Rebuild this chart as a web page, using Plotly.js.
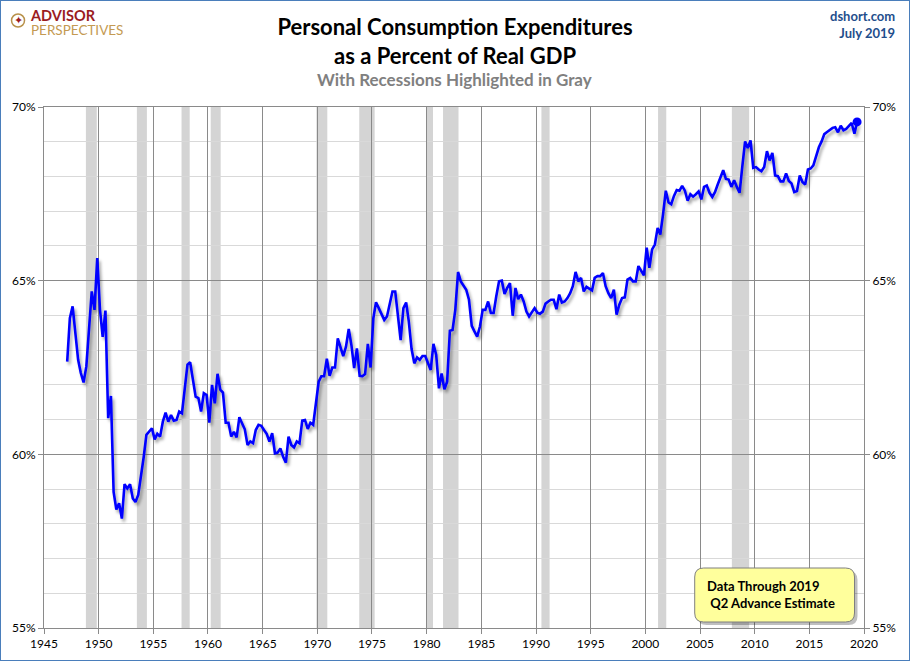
<!DOCTYPE html>
<html>
<head>
<meta charset="utf-8">
<script src="https://cdn.plot.ly/plotly-3.0.1.min.js"></script>
<style>
  html, body { margin:0; padding:0; background:#fff; }
  #wrap { position:relative; width:910px; height:661px; }
  #chart { width:910px; height:661px; }
  #frame { position:absolute; left:0; top:0; width:908px; height:659px; border:1px solid #4a7ebb; pointer-events:none; }
</style>
</head>
<body>
<svg width="0" height="0" style="position:absolute">
  <defs>
    <filter id="lineShadow" x="-5%" y="-5%" width="110%" height="120%">
      <feDropShadow dx="2" dy="3" stdDeviation="1.4" flood-color="#000" flood-opacity="0.35"/>
    </filter>
  </defs>
</svg>
<div id="wrap"><div id="chart"></div><div id="frame"></div></div>
<script>
// Quarterly PCE as % of real GDP, first quarter = 1947 Q1
const startYear = 1947;
const pce1947to1959 = [
  62.67, 63.92, 64.26, 63.49,
  62.72, 62.34, 62.07, 62.53,
  63.59, 64.69, 64.16, 65.65,
  64.16, 63.38, 64.14, 61.04,
  61.68, 58.92, 58.41, 58.59,
  58.15, 59.14, 59.02, 59.14,
  58.73, 58.63, 58.83, 59.36,
  59.93, 60.56, 60.67, 60.75,
  60.43, 60.59, 60.51, 60.94,
  61.20, 60.94, 61.13, 60.97,
  60.99, 61.23, 61.18, 61.81,
  62.58, 62.65, 62.19, 61.66,
  61.62, 61.23, 61.76, 61.71
];
const pce1960s = [
  60.91, 62.00, 61.47, 62.32,
  61.86, 61.78, 60.91, 60.91,
  60.51, 60.65, 60.49, 61.07,
  60.89, 60.72, 60.27, 60.37,
  60.32, 60.70, 60.85, 60.82,
  60.70, 60.59, 60.37, 60.61,
  60.03, 60.05, 60.17, 59.93,
  59.76, 60.51, 60.27, 60.20,
  60.37, 60.32, 60.97, 60.99,
  60.73, 60.91, 60.85, 61.47
];
const pce1970s = [
  62.09, 62.25, 62.25, 62.75,
  62.26, 62.50, 62.50, 63.34,
  63.08, 62.83, 63.10, 63.61,
  63.13, 62.48, 63.05, 62.26,
  62.25, 62.31, 63.18, 62.50,
  63.92, 64.38, 64.21, 64.02,
  63.87, 63.97, 64.35, 64.69,
  64.69, 63.92, 63.29, 64.21,
  64.37, 63.82, 63.03, 62.62,
  62.79, 62.72, 62.83, 62.83
];
const pce1980s = [
  62.62, 62.43, 63.18, 62.86,
  61.90, 62.33, 61.87, 62.09,
  63.56, 63.58, 64.16, 65.25,
  64.98, 64.86, 64.74, 64.45,
  63.70, 63.54, 63.39, 63.68,
  64.16, 64.16, 64.40, 64.07,
  64.07, 64.55, 64.98, 65.00,
  64.62, 64.79, 64.93, 63.99,
  64.79, 64.47, 64.60, 64.40,
  64.11, 63.97, 64.11, 64.21
];
const pce1990s = [
  64.08, 64.05, 64.11, 64.34,
  64.40, 64.45, 64.45, 64.18,
  64.60, 64.37, 64.40, 64.50,
  64.64, 64.84, 65.25, 64.98,
  65.08, 64.69, 64.82, 64.76,
  64.72, 65.08, 65.13, 65.13,
  65.22, 64.84, 64.64, 64.50,
  64.74, 64.02, 64.31, 64.50,
  64.52, 65.03, 65.08, 64.98,
  64.98, 65.42, 65.29, 65.15
];
const pce2000s = [
  65.95, 65.37, 65.90, 66.04,
  66.52, 66.33, 66.91, 67.59,
  67.25, 67.20, 67.44, 67.61,
  67.59, 67.73, 67.59, 67.30,
  67.49, 67.42, 67.49, 67.57,
  67.34, 67.70, 67.74, 67.53,
  67.41, 67.55, 67.77, 67.96,
  68.18, 67.93, 67.91, 67.70,
  67.89, 67.70, 67.53, 68.30,
  69.01, 68.82, 69.04, 68.25
];
const pce2010s = [
  68.27, 68.20, 68.15, 68.27,
  68.73, 68.46, 68.68, 68.03,
  68.01, 67.86, 67.86, 68.09,
  67.87, 67.80, 67.55, 67.58,
  68.03, 67.84, 67.77, 68.20,
  68.23, 68.32, 68.58, 68.84,
  69.01, 69.22, 69.28, 69.35,
  69.40, 69.42, 69.27, 69.46,
  69.33, 69.37, 69.46, 69.54,
  69.23, 69.57
];
// NBER recessions (start, end)
const recessionStart = ['1948-11-01','1953-07-01','1957-08-01','1960-04-01','1969-12-01','1973-11-01','1980-01-01','1981-07-01','1990-07-01','2001-03-01','2007-12-01'];
const recessionEnd   = ['1949-10-31','1954-05-31','1958-04-30','1961-02-28','1970-11-30','1975-03-31','1980-07-31','1982-11-30','1991-03-31','2001-11-30','2009-06-30'];
const yTickVals = [55, 60, 65, 70];
const quarterMonths = ['02','05','08','11'];

const values = [].concat(pce1947to1959, pce1960s, pce1970s, pce1980s, pce1990s, pce2000s, pce2010s);
const dates = values.map((v, i) => (startYear + Math.floor(i / 4)) + '-' + quarterMonths[i % 4] + '-15');

// pixel helpers for decorations outside plot area
const L = 43.5, R = 864.5, T = 107, B = 628;
const px = p => (p - L) / (R - L);
const py = p => (B - p) / (B - T);

const font = 'Lato, "Open Sans", sans-serif';
const blue = '#0000ff';

const shapes = recessionStart.map((s, i) => ({
  type: 'rect', xref: 'x', yref: 'paper', x0: s, x1: recessionEnd[i], y0: 0, y1: 1,
  fillcolor: '#d4d4d4', line: { width: 0 }, layer: 'below'
}));

// rounded box with shadow
function roundRect(x0, y0, x1, y1, r) {
  const a = px(x0), b = px(x1), top = py(y0), bot = py(y1);
  const rx = r / (R - L), ry = r / (B - T);
  return `M ${a + rx},${top} L ${b - rx},${top} Q ${b},${top} ${b},${top - ry} L ${b},${bot + ry} Q ${b},${bot} ${b - rx},${bot} L ${a + rx},${bot} Q ${a},${bot} ${a},${bot + ry} L ${a},${top - ry} Q ${a},${top} ${a + rx},${top} Z`;
}
shapes.push({ type: 'path', xref: 'paper', yref: 'paper', path: roundRect(698, 571, 858, 625, 9), fillcolor: 'rgba(0,0,0,0.25)', line: { width: 0 }, layer: 'above' });
shapes.push({ type: 'path', xref: 'paper', yref: 'paper', path: roundRect(695, 568, 855, 622, 9), fillcolor: '#ffff9c', line: { color: '#7f7f7f', width: 1 }, layer: 'above' });
// logo compass circle
shapes.push({ type: 'circle', xref: 'paper', yref: 'paper', x0: px(11), x1: px(24), y0: py(27), y1: py(14), line: { color: '#b8914a', width: 1.5 }, fillcolor: 'rgba(0,0,0,0)' });

function note(text, xp, yp, size, color, anchor) {
  return { text: text, x: px(xp), y: py(yp), xanchor: anchor || 'center', yanchor: 'middle', xref: 'paper', yref: 'paper', showarrow: false, font: { family: font, size: size, color: color } };
}
const annotations = [
  note('<b>With Recessions Highlighted in Gray</b>', 455, 80, 17, '#808080'),
  Object.assign(note('<span style="font-size:14.5px;font-weight:bold;color:#9b1c1f">ADVISOR</span><br><span style="font-size:13.5px;color:#c49a52">PERSPECTIVES</span>', 27, 22.5, 11, '#c49a52', 'left'), { align: 'left' }),
  { text: '✦', x: px(17.5), y: py(20.5), xanchor: 'center', yanchor: 'middle', xref: 'paper', yref: 'paper', showarrow: false, font: { family: 'DejaVu Sans', size: 11, color: '#9b1c1f' } },
  Object.assign(note('<b>dshort.com</b><br><b>July 2019</b>', 898, 24, 13, '#1f4e8c', 'right'), { align: 'right' }),
  Object.assign(note('<b>Data Through 2019</b><br> <b>Q2 Advance Estimate</b>', 705, 594.5, 13, '#000', 'left'), { align: 'left' })
];

const traces = [
  { x: dates, y: values, type: 'scatter', mode: 'lines', line: { color: blue, width: 2.6 }, hoverinfo: 'skip' },
  { x: [dates[dates.length - 1]], y: [values[values.length - 1]], type: 'scatter', mode: 'markers', marker: { color: blue, size: 9 }, yaxis: 'y2', hoverinfo: 'skip' }
];

const grid = '#8a8a8a';
const layout = {
  width: 910, height: 661,
  margin: { l: L, r: 910 - R, t: T, b: 661 - B, pad: 0 },
  paper_bgcolor: '#fff', plot_bgcolor: '#fff',
  showlegend: false,
  font: { family: font, size: 12, color: '#000' },
  title: { text: '<b>Personal Consumption Expenditures<br>as a Percent of Real GDP</b>', x: 0.5, xanchor: 'center', y: 1 - 35 / 661, yanchor: 'middle', yref: 'container', font: { family: font, size: 22, color: '#000' } },
  xaxis: {
    type: 'date', range: ['1945-01-01', '2020-01-01'], tick0: '1945-01-01', dtick: 'M60', tickformat: '%Y',
    showgrid: true, gridcolor: grid, gridwidth: 1, ticks: 'outside', ticklen: 5, tickcolor: grid,
    showline: true, linecolor: grid, mirror: true, zeroline: false, fixedrange: true,
    tickfont: { family: font, size: 12, color: '#000' }
  },
  yaxis: {
    range: [55, 70], tickvals: yTickVals, ticktext: yTickVals.map(v => v + '%'),
    showgrid: true, gridcolor: grid, gridwidth: 1, ticks: 'outside', ticklen: 5, tickcolor: grid,
    showline: true, linecolor: grid, mirror: true, zeroline: false,
    minor: { dtick: 1, showgrid: true, gridcolor: '#d9d9d9', gridwidth: 1, ticks: '' },
    tickfont: { family: font, size: 12, color: '#000' }
  },
  yaxis2: {
    range: [55, 70], overlaying: 'y', side: 'right', tickvals: yTickVals, ticktext: yTickVals.map(v => v + '%'),
    showgrid: false, ticks: 'outside', ticklen: 5, tickcolor: grid, zeroline: false, showline: false,
    tickfont: { family: font, size: 12, color: '#000' }
  },
  shapes: shapes,
  annotations: annotations
};

Plotly.newPlot('chart', traces, layout, { staticPlot: true, displayModeBar: false }).then(() => {
  const path = document.querySelector('#chart .scatterlayer .trace path.js-line');
  if (path) path.setAttribute('filter', 'url(#lineShadow)');
});
</script>
</body>
</html>
